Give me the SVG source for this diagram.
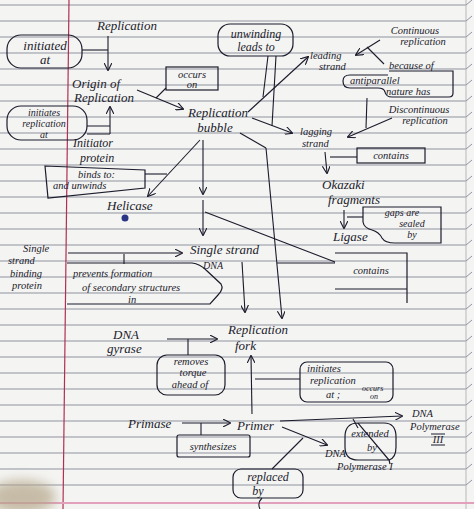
<svg xmlns="http://www.w3.org/2000/svg" width="474" height="509" viewBox="0 0 474 509">
<style>
.t{font-family:"Liberation Serif","DejaVu Serif",serif;font-style:italic;font-size:13px;fill:#1b1b2c}
.s{font-size:10.5px}
.xs{font-size:8px}
.m{text-anchor:middle}
.b{fill:none;stroke:#1b1b2c;stroke-width:1.2}
.c{fill:none;stroke:#1b1b2c;stroke-width:1.1}
.a{fill:none;stroke:#1b1b2c;stroke-width:1.1;marker-end:url(#ah)}
</style>
<defs>
<marker id="ah" viewBox="0 0 10 10" refX="9" refY="5" markerWidth="8" markerHeight="8" orient="auto" markerUnits="userSpaceOnUse">
<path d="M0,0 L10,5 L0,10" fill="none" stroke="#1b1b2c" stroke-width="1.4"/>
</marker>
<filter id="blur" x="-50%" y="-50%" width="200%" height="200%"><feGaussianBlur stdDeviation="6"/></filter>
</defs>
<g id="paper">
<rect width="474" height="509" fill="#f4f4f2"/>
<path d="M0 5H466M0 21H466M0 37H466M0 53H466M0 69H466M0 85H466M0 101H466M0 117H466M0 133H466M0 149H466M0 165H466M0 181H466M0 197H466M0 213H466M0 229H466M0 245H466M0 261H466M0 277H466M0 293H466M0 309H466M0 325H466M0 341H466M0 357H466M0 373H466M0 389H466M0 405H466M0 421H466M0 437H466M0 453H466M0 469H466M0 485H466" stroke="#8e93a0" stroke-width="1"/>
<path d="M466 0V509" stroke="#b8b8bc" stroke-width="1"/>
<path d="M466 5l6-5M466 21l6-5M466 37l6-5M466 53l6-5M466 69l6-5M466 85l6-5M466 101l6-5M466 117l6-5M466 133l6-5M466 149l6-5M466 165l6-5M466 181l6-5M466 197l6-5M466 213l6-5M466 229l6-5M466 245l6-5M466 261l6-5M466 277l6-5M466 293l6-5M466 309l6-5M466 325l6-5M466 341l6-5M466 357l6-5M466 373l6-5M466 389l6-5M466 405l6-5M466 421l6-5M466 437l6-5M466 453l6-5M466 469l6-5M466 485l6-5" stroke="#8e93a0" stroke-width="1"/>
<path d="M69 0L63 509" stroke="#b03055" stroke-width="1.2"/>
<path d="M0 503H474" stroke="#e2a0bc" stroke-width="2"/>
<ellipse cx="22" cy="497" rx="34" ry="17" fill="#b3a487" opacity="0.7" filter="url(#blur)"/>
</g>
<g id="connectors">
<path class="a" d="M108 36V70"/>
<path class="c" d="M82 50H108"/>
<path class="a" d="M110 134V107"/>
<path class="c" d="M87 126H110M87 134H110"/>
<path class="a" d="M137 90L183 109"/>
<path class="c" d="M166 88L156 98"/>
<path class="a" d="M248 112L308 57"/>
<path class="a" d="M252 118L292 133"/>
<path class="c" d="M276 56L272 126M268 56L263 97"/>
<path class="a" d="M380 40L356 55"/>
<path class="c" d="M367 47L384 64"/>
<path class="a" d="M392 118L348 137"/>
<path class="c" d="M367 98L366 128"/>
<path class="a" d="M325 152L327 173"/>
<path class="c" d="M330 157H357"/>
<path class="a" d="M344 210V228"/>
<path class="c" d="M347 217H363"/>
<path class="a" d="M200 140L148 196"/>
<path class="c" d="M145 174H167"/>
<path class="a" d="M203 140V194"/>
<path class="a" d="M203 200V235"/>
<path class="c" d="M205 212L335 262M277 263H335"/>
<path class="c" d="M240 133L266 148"/>
<path class="a" d="M266 148L282 318"/>
<path class="a" d="M68 253H182"/>
<path class="c" d="M124 254V264"/>
<path class="a" d="M242 262L245 312"/>
<path class="a" d="M167 339H217"/>
<path class="c" d="M188 339V355"/>
<path class="a" d="M252 414L251 356"/>
<path class="c" d="M255 379H300" stroke-width="1.8"/>
<path class="a" d="M182 423H230"/>
<path class="c" d="M201 423V435"/>
<path class="a" d="M280 421L402 416"/>
<path class="c" d="M353 419L358 428"/>
<path class="a" d="M282 427L327 445"/>
<path class="c" d="M272 469L303 438"/>
<path class="c" d="M262 498Q257 503 260 509"/>
</g>
<g id="n-replication"><text class="t" x="97" y="30">Replication</text></g>
<g id="n-initiated-at">
<rect class="b" x="7" y="35" width="75" height="33" rx="14"/>
<text class="t m" x="45" y="50">initiated</text>
<text class="t m" x="45" y="64">at</text>
</g>
<g id="n-origin">
<text class="t" x="72" y="88">Origin of</text>
<text class="t" x="74" y="102">Replication</text>
</g>
<g id="n-occurs-on">
<rect class="b" x="166" y="67" width="52" height="23"/>
<text class="t s m" x="192" y="78">occurs</text>
<text class="t s m" x="192" y="88">on</text>
</g>
<g id="n-initiates-replication-at">
<rect class="b" x="7" y="106" width="80" height="34" rx="14"/>
<text class="t m" style="font-size:10px" x="44" y="116">initiates</text>
<text class="t m" style="font-size:10px" x="44" y="127">replication</text>
<text class="t m" style="font-size:10px" x="44" y="138">at</text>
</g>
<g id="n-unwinding">
<rect class="b" x="218" y="24" width="75" height="32" rx="12"/>
<text class="t m" style="font-size:12px" x="256" y="38">unwinding</text>
<text class="t m" style="font-size:12px" x="256" y="51">leads to</text>
</g>
<g id="n-bubble">
<text class="t m" x="218" y="117">Replication</text>
<text class="t m" x="215" y="132">bubble</text>
</g>
<g id="n-leading">
<text class="t s" x="310" y="59">leading</text>
<text class="t s" x="319" y="70">strand</text>
</g>
<g id="n-continuous">
<text class="t s m" x="415" y="34">Continuous</text>
<text class="t s m" x="423" y="45">replication</text>
</g>
<g id="n-antiparallel">
<text class="t s" x="389" y="69">because of</text>
<path class="b" d="M389 71H453V93Q453 97 449 97H392Q386 97 385 92Q384 88 378 88H350Q343 88 343 81Q343 75 350 75H388"/>
<text class="t s" x="350" y="84">antiparallel</text>
<text class="t s" x="386" y="95">nature has</text>
</g>
<g id="n-discontinuous">
<text class="t s m" x="419" y="113">Discontinuous</text>
<text class="t s m" x="425" y="124">replication</text>
</g>
<g id="n-lagging">
<text class="t s" x="300" y="135">lagging</text>
<text class="t s" x="302" y="147">strand</text>
</g>
<g id="n-contains-1">
<rect class="b" x="357" y="148" width="68" height="15"/>
<text class="t s m" x="391" y="159">contains</text>
</g>
<g id="n-okazaki">
<text class="t" x="322" y="189">Okazaki</text>
<text class="t" x="328" y="204">fragments</text>
</g>
<g id="n-gaps">
<path class="b" d="M363 207V222Q364 228 372 230Q379 232 382 238Q385 243 395 243H441V207Z"/>
<text class="t m" style="font-size:10px" x="402" y="216">gaps are</text>
<text class="t m" style="font-size:10px" x="412" y="227">sealed</text>
<text class="t m" style="font-size:10px" x="412" y="238">by</text>
</g>
<g id="n-ligase"><text class="t" x="333" y="241">Ligase</text></g>
<g id="n-initiator">
<text class="t" style="font-size:12px" x="73" y="147">Initiator</text>
<text class="t" style="font-size:12px" x="80" y="162">protein</text>
</g>
<g id="n-binds">
<path class="b" d="M45 166L145 170V188L48 198Z"/>
<text class="t s" x="78" y="178">binds to:</text>
<text class="t s" x="53" y="189">and unwinds</text>
</g>
<g id="n-helicase">
<text class="t" x="107" y="210">Helicase</text>
<circle cx="125" cy="218" r="3.5" fill="#2a3585"/>
</g>
<g id="n-contains-2">
<path class="b" d="M335 253H407V303M407 289H335Z"/>
<text class="t s m" x="371" y="274">contains</text>
</g>
<g id="n-single-strand">
<text class="t" x="190" y="254">Single strand</text>
<text class="t" style="font-size:10px" x="203" y="269">DNA</text>
</g>
<g id="n-ssb">
<text class="t s" x="23" y="252">Single</text>
<text class="t s" x="8" y="264">strand</text>
<text class="t s" x="10" y="277">binding</text>
<text class="t s" x="12" y="289">protein</text>
</g>
<g id="n-prevents">
<path class="b" d="M67 263H192Q200 264 206 270L221 284Q224 289 218 295L210 304H67"/>
<text class="t s" x="73" y="277">prevents formation</text>
<text class="t s" x="82" y="291">of secondary structures</text>
<text class="t s" x="128" y="303">in</text>
</g>
<g id="n-gyrase">
<text class="t" x="113" y="339">DNA</text>
<text class="t" x="107" y="353">gyrase</text>
</g>
<g id="n-removes">
<rect class="b" x="157" y="355" width="68" height="40" rx="10"/>
<text class="t s m" x="191" y="365">removes</text>
<text class="t s m" x="193" y="376">torque</text>
<text class="t s m" x="190" y="388">ahead of</text>
</g>
<g id="n-fork">
<text class="t" x="228" y="334">Replication</text>
<text class="t" x="235" y="350">fork</text>
</g>
<g id="n-initiates-occurs">
<rect class="b" x="300" y="362" width="93" height="40" rx="7"/>
<text class="t s" x="307" y="372">initiates</text>
<text class="t s" x="310" y="384">replication</text>
<text class="t s" x="326" y="398">at ;</text>
<text class="t xs" x="362" y="391">occurs</text>
<text class="t xs" x="370" y="399">on</text>
</g>
<g id="n-primase"><text class="t" x="128" y="428">Primase</text></g>
<g id="n-synthesizes">
<rect class="b" x="177" y="435" width="73" height="22" rx="2"/>
<text class="t s m" x="213" y="450">synthesizes</text>
</g>
<g id="n-primer"><text class="t" x="237" y="430">Primer</text></g>
<g id="n-pol3">
<text class="t s" x="412" y="417">DNA</text>
<text class="t s" x="410" y="430">Polymerase</text>
<text class="t s m" x="438" y="443">III</text>
<path class="c" d="M431 434H445M431 445H445"/>
</g>
<g id="n-extended">
<path class="b" d="M358 423H384Q396 423 396 437V447Q396 458 389 460L390 464M389 460H358Q345 460 345 447V437Q345 423 358 423Z"/>
<text class="t s m" x="370" y="437">extended</text>
<text class="t s m" x="372" y="451">by</text>
</g>
<g id="n-pol1">
<text class="t s" x="325" y="457">DNA</text>
<text class="t s" x="337" y="470">Polymerase I</text>
</g>
<g id="n-replaced">
<rect class="b" x="233" y="469" width="70" height="29" rx="8"/>
<text class="t m" style="font-size:12px" x="268" y="481">replaced</text>
<text class="t m" style="font-size:12px" x="258" y="495">by</text>
</g>
</svg>
